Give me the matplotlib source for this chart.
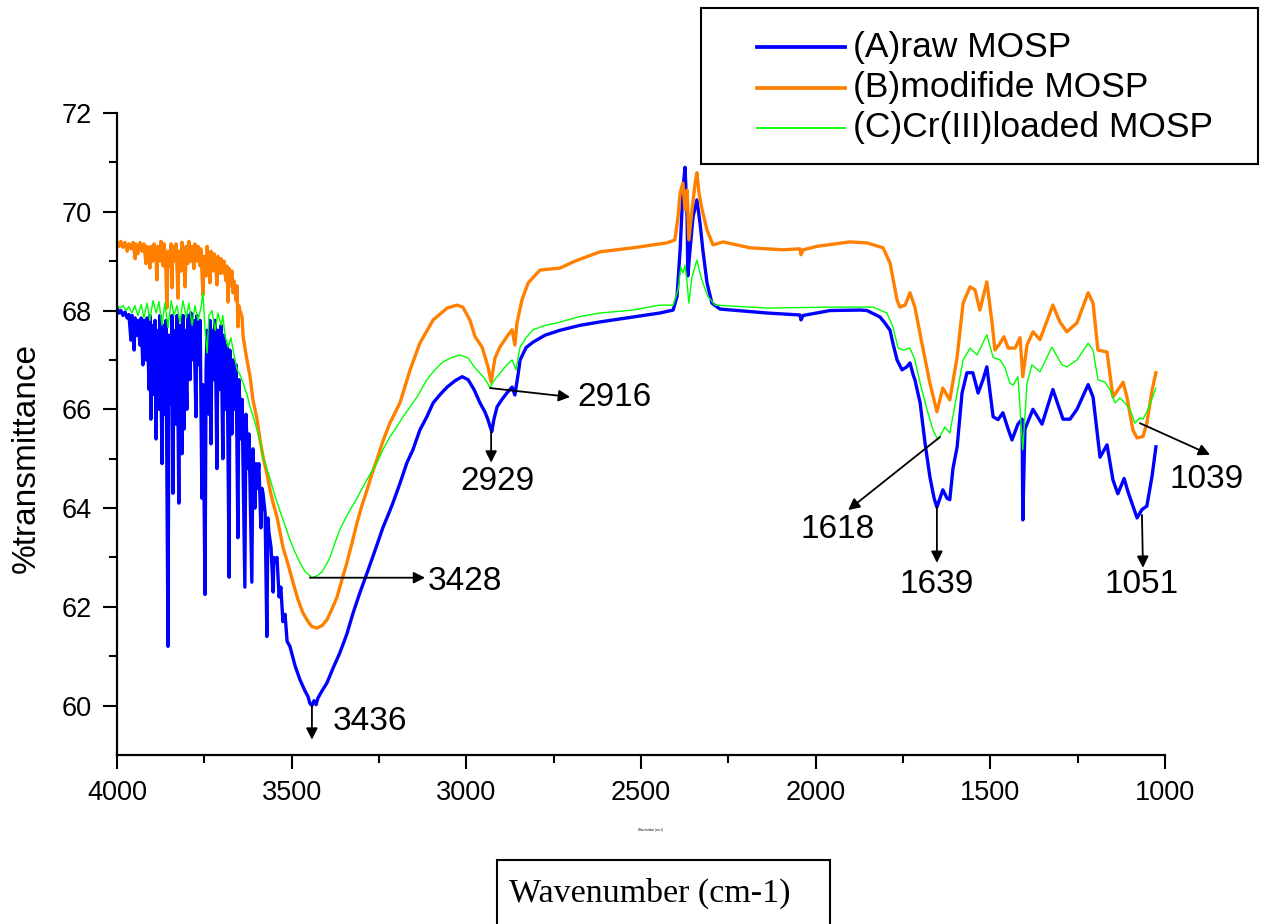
import numpy as np
import matplotlib
matplotlib.use("Agg")
import matplotlib.pyplot as plt
from matplotlib.patches import Rectangle
from matplotlib.lines import Line2D

plt.rcParams['font.family'] = ['Liberation Sans', 'DejaVu Sans']

# (wavenumber cm-1, %transmittance)
raw_mosp = [
    (4000, 68.05), (3994, 67.95), (3989, 68.00), (3983, 67.90), (3977, 67.97), (3971, 67.85), (3966, 67.92), (3960, 67.40),
    (3957, 67.90), (3951, 67.20), (3948, 67.85), (3943, 67.50), (3940, 67.80), (3934, 67.30), (3931, 67.85), (3926, 66.90),
    (3923, 67.80), (3917, 67.00), (3914, 67.85), (3908, 66.40), (3906, 67.90), (3903, 65.80), (3900, 67.70), (3894, 66.30),
    (3891, 67.80), (3888, 65.40), (3886, 67.60), (3880, 66.00), (3877, 67.90), (3871, 64.90), (3868, 67.70), (3863, 65.90),
    (3860, 67.80), (3854, 61.20), (3851, 67.50), (3845, 66.10), (3843, 67.90), (3840, 64.30), (3837, 67.60), (3831, 65.70),
    (3828, 67.90), (3823, 64.10), (3820, 67.70), (3814, 65.10), (3811, 67.90), (3808, 65.60), (3805, 67.60), (3800, 66.00),
    (3797, 67.90), (3791, 66.60), (3788, 67.95), (3782, 67.00), (3780, 67.80), (3774, 65.85), (3771, 67.90), (3765, 66.90),
    (3762, 67.80), (3757, 64.20), (3754, 66.50), (3748, 62.25), (3745, 66.80), (3742, 67.60), (3737, 65.90), (3734, 67.80),
    (3731, 65.30), (3728, 67.60), (3722, 66.60), (3719, 67.80), (3714, 64.80), (3711, 67.60), (3705, 66.40), (3702, 67.70),
    (3697, 65.00), (3694, 67.50), (3688, 66.00), (3685, 67.30), (3679, 62.60), (3677, 67.20), (3671, 65.50), (3668, 67.00),
    (3662, 66.00), (3659, 66.90), (3654, 63.40), (3651, 66.60), (3645, 65.40), (3642, 66.20), (3634, 62.40), (3631, 65.90),
    (3625, 64.80), (3622, 65.50), (3614, 62.50), (3611, 65.20), (3605, 64.00), (3602, 64.90), (3599, 64.40), (3594, 64.90),
    (3588, 63.60), (3585, 64.40), (3582, 64.30), (3576, 63.90), (3571, 61.40), (3568, 63.80), (3565, 63.50), (3559, 63.20),
    (3553, 62.30), (3551, 63.00), (3548, 62.90), (3542, 63.00), (3536, 62.20), (3531, 62.40), (3525, 61.70), (3519, 61.85),
    (3513, 61.30), (3505, 61.20),
    (3490, 60.80), (3476, 60.52), (3462, 60.30), (3453, 60.18), (3448, 60.05), (3442, 60.00), (3436, 60.10), (3430, 60.02),
    (3425, 60.15), (3413, 60.30), (3399, 60.46), (3382, 60.75), (3362, 61.07), (3342, 61.45), (3324, 61.88), (3304, 62.30),
    (3284, 62.69), (3261, 63.15), (3239, 63.60), (3213, 64.05), (3190, 64.50), (3170, 64.92), (3153, 65.18), (3133, 65.58),
    (3113, 65.85), (3095, 66.13), (3075, 66.30), (3055, 66.45), (3032, 66.58), (3012, 66.66), (2995, 66.60), (2978, 66.40),
    (2961, 66.13), (2947, 65.95), (2938, 65.79), (2932, 65.65), (2927, 65.55), (2921, 65.80), (2912, 66.05), (2898, 66.20),
    (2884, 66.33), (2869, 66.45), (2861, 66.29), (2852, 66.70), (2846, 67.00), (2829, 67.25), (2809, 67.36), (2775, 67.50),
    (2732, 67.60), (2675, 67.70), (2617, 67.77), (2523, 67.87), (2446, 67.95), (2408, 68.01), (2397, 68.28), (2388, 69.23),
    (2380, 70.44), (2374, 70.90), (2368, 69.90), (2366, 68.70), (2360, 69.20), (2351, 69.90), (2340, 70.24), (2331, 69.77),
    (2323, 69.23), (2311, 68.56), (2297, 68.15), (2274, 68.03), (2139, 67.95), (2045, 67.91), (2042, 67.81), (2036, 67.90),
    (1959, 68.00), (1873, 68.01), (1853, 68.00), (1816, 67.87), (1802, 67.75), (1787, 67.60), (1779, 67.34), (1767, 67.00),
    (1753, 66.80), (1739, 66.86), (1730, 66.94), (1721, 66.70), (1716, 66.60), (1701, 66.13), (1687, 65.32), (1673, 64.63),
    (1661, 64.20), (1653, 64.02), (1644, 64.20), (1636, 64.37), (1624, 64.20), (1616, 64.17), (1607, 64.80), (1595, 65.24),
    (1581, 66.33), (1567, 66.74), (1550, 66.74), (1535, 66.33), (1521, 66.60), (1510, 66.86), (1492, 65.85), (1478, 65.79),
    (1464, 65.93), (1449, 65.60), (1438, 65.38), (1421, 65.70), (1409, 65.80), (1407, 63.76), (1401, 65.60), (1378, 66.00),
    (1352, 65.70), (1321, 66.40), (1292, 65.80), (1272, 65.80), (1252, 66.00), (1220, 66.50), (1206, 66.25), (1186, 65.03),
    (1166, 65.28), (1149, 64.57), (1135, 64.29), (1117, 64.60), (1106, 64.33), (1080, 63.80), (1066, 63.97), (1052, 64.04),
    (1037, 64.65), (1026, 65.24),
]

modified_mosp = [
    (4000, 69.39), (3994, 69.30), (3989, 69.40), (3983, 69.28), (3977, 69.38), (3971, 69.20), (3966, 69.35), (3960, 69.25),
    (3954, 69.38), (3948, 69.05), (3946, 69.35), (3940, 69.15), (3934, 69.38), (3928, 69.20), (3923, 69.35), (3917, 68.95),
    (3914, 69.30), (3908, 69.10), (3906, 68.86), (3903, 69.30), (3897, 69.00), (3894, 69.35), (3888, 69.10), (3886, 68.62),
    (3883, 69.30), (3877, 69.00), (3874, 69.40), (3868, 68.90), (3865, 69.35), (3860, 68.80), (3857, 68.05), (3854, 69.20),
    (3848, 68.90), (3845, 69.35), (3843, 68.46), (3840, 69.30), (3834, 69.00), (3831, 69.35), (3825, 68.25), (3823, 69.20),
    (3817, 68.80), (3814, 69.38), (3808, 68.90), (3805, 68.48), (3802, 69.30), (3797, 68.95), (3794, 69.40), (3788, 69.00),
    (3785, 69.30), (3780, 68.85), (3777, 69.35), (3771, 69.00), (3768, 69.30), (3762, 68.90), (3760, 69.25), (3754, 68.32),
    (3751, 69.10), (3745, 68.70), (3742, 69.30), (3737, 68.90), (3734, 68.56), (3731, 69.20), (3725, 68.80), (3722, 69.15),
    (3717, 68.90), (3714, 68.52), (3711, 69.10), (3705, 68.75), (3702, 69.05), (3697, 68.76), (3694, 69.00), (3688, 68.60),
    (3685, 68.90), (3682, 68.17), (3679, 68.85), (3674, 68.50), (3671, 68.80), (3668, 68.36), (3665, 68.60), (3659, 68.20),
    (3656, 68.50), (3654, 67.67), (3651, 68.10), (3648, 68.00), (3642, 67.87), (3639, 67.47),
    (3628, 67.00), (3619, 66.66), (3611, 66.20), (3599, 65.79), (3591, 65.40), (3582, 65.04), (3571, 64.70), (3562, 64.37),
    (3553, 64.10), (3542, 63.82), (3533, 63.50), (3525, 63.21), (3510, 62.85), (3496, 62.49), (3482, 62.15), (3468, 61.88),
    (3453, 61.70), (3442, 61.60), (3427, 61.57), (3413, 61.62), (3399, 61.74), (3385, 61.95), (3370, 62.20), (3356, 62.55),
    (3342, 62.89), (3327, 63.30), (3313, 63.70), (3299, 64.05), (3284, 64.37), (3270, 64.70), (3256, 64.98), (3239, 65.35),
    (3219, 65.72), (3190, 66.13), (3161, 66.80), (3133, 67.34), (3095, 67.81), (3055, 68.05), (3027, 68.11), (3010, 68.07),
    (2990, 67.81), (2975, 67.47), (2955, 67.26), (2938, 66.86), (2929, 66.55), (2918, 67.04), (2904, 67.26), (2884, 67.47),
    (2869, 67.61), (2861, 67.30), (2855, 67.75), (2841, 68.21), (2823, 68.56), (2789, 68.82), (2732, 68.86), (2689, 69.00),
    (2617, 69.19), (2523, 69.27), (2426, 69.37), (2403, 69.43), (2394, 69.90), (2388, 70.38), (2380, 70.58), (2374, 70.04),
    (2368, 70.44), (2363, 69.43), (2354, 70.04), (2345, 70.58), (2340, 70.79), (2334, 70.38), (2325, 70.04), (2311, 69.63),
    (2294, 69.33), (2265, 69.39), (2188, 69.27), (2094, 69.23), (2045, 69.25), (2042, 69.13), (2036, 69.23), (1996, 69.30),
    (1902, 69.39), (1853, 69.37), (1807, 69.27), (1787, 68.96), (1767, 68.21), (1759, 68.07), (1744, 68.11), (1730, 68.36),
    (1716, 68.07), (1696, 67.34), (1673, 66.53), (1653, 65.95), (1636, 66.43), (1616, 66.19), (1595, 67.06), (1578, 68.15),
    (1558, 68.48), (1544, 68.42), (1530, 68.01), (1510, 68.58), (1495, 67.75), (1487, 67.20), (1472, 67.34), (1461, 67.47),
    (1449, 67.24), (1429, 67.24), (1415, 67.45), (1407, 66.66), (1395, 67.30), (1378, 67.57), (1358, 67.41), (1321, 68.11),
    (1301, 67.77), (1281, 67.57), (1252, 67.75), (1220, 68.36), (1206, 68.15), (1192, 67.20), (1166, 67.16), (1149, 66.25),
    (1129, 66.45), (1120, 66.55), (1109, 66.25), (1092, 65.58), (1080, 65.42), (1063, 65.45), (1052, 65.72), (1037, 66.39),
    (1026, 66.74),
]

cr_loaded_mosp = [
    (4000, 68.11), (3991, 68.05), (3983, 68.10), (3974, 68.00), (3966, 68.08), (3957, 67.95), (3949, 68.10), (3940, 67.90),
    (3931, 68.12), (3923, 67.85), (3914, 68.15), (3906, 67.80), (3897, 68.20), (3888, 67.95), (3880, 68.18), (3871, 67.70),
    (3863, 68.15), (3854, 67.65), (3845, 68.20), (3837, 67.90), (3828, 68.10), (3820, 67.75), (3811, 68.20), (3802, 67.85),
    (3794, 68.15), (3785, 67.70), (3777, 68.10), (3768, 67.80), (3760, 68.05), (3754, 68.36), (3748, 67.60), (3742, 67.14),
    (3737, 67.90), (3728, 68.00), (3719, 67.60), (3711, 67.95), (3702, 67.70), (3697, 67.90), (3691, 67.50), (3682, 67.26),
    (3674, 67.45), (3665, 67.10), (3656, 66.80), (3648, 66.70), (3639, 66.53), (3628, 66.30), (3619, 66.05), (3608, 65.80),
    (3599, 65.58), (3591, 65.38), (3582, 65.04), (3571, 64.80), (3562, 64.60), (3548, 64.25), (3533, 63.93), (3519, 63.65),
    (3505, 63.36), (3490, 63.10), (3476, 62.89), (3462, 62.72), (3442, 62.59), (3427, 62.63), (3413, 62.71), (3399, 62.88),
    (3390, 63.01), (3376, 63.30), (3362, 63.56), (3347, 63.78), (3333, 63.96), (3313, 64.20), (3296, 64.43), (3276, 64.68),
    (3256, 64.92), (3239, 65.18), (3219, 65.44), (3198, 65.66), (3181, 65.85), (3161, 66.05), (3141, 66.25), (3113, 66.60),
    (3090, 66.80), (3067, 66.96), (3041, 67.05), (3018, 67.10), (2995, 67.04), (2975, 66.84), (2952, 66.66), (2941, 66.55),
    (2932, 66.43), (2924, 66.55), (2912, 66.66), (2884, 66.90), (2869, 67.00), (2858, 66.80), (2846, 67.26), (2829, 67.45),
    (2809, 67.61), (2775, 67.70), (2740, 67.75), (2675, 67.88), (2617, 67.95), (2523, 68.01), (2446, 68.11), (2408, 68.11),
    (2394, 68.42), (2386, 68.88), (2380, 68.76), (2374, 68.92), (2368, 68.56), (2363, 68.15), (2354, 68.68), (2340, 69.02),
    (2331, 68.76), (2323, 68.56), (2308, 68.28), (2288, 68.11), (2139, 68.05), (1950, 68.07), (1836, 68.07), (1796, 67.95),
    (1779, 67.67), (1764, 67.24), (1750, 67.20), (1730, 67.24), (1716, 67.00), (1701, 66.53), (1681, 65.99), (1664, 65.58),
    (1650, 65.38), (1630, 65.64), (1616, 65.52), (1595, 66.33), (1578, 67.00), (1558, 67.24), (1538, 67.10), (1510, 67.51),
    (1492, 67.05), (1472, 67.00), (1458, 66.84), (1444, 66.53), (1435, 66.49), (1421, 66.66), (1407, 65.18), (1395, 66.53),
    (1381, 66.90), (1358, 66.76), (1324, 67.26), (1295, 66.90), (1281, 66.86), (1252, 67.00), (1220, 67.34), (1206, 67.20),
    (1192, 66.60), (1172, 66.55), (1157, 66.39), (1143, 66.13), (1129, 66.23), (1115, 66.13), (1100, 65.99), (1086, 65.72),
    (1072, 65.83), (1063, 65.80), (1049, 65.99), (1026, 66.43),
]

labels = ['(A)raw MOSP', '(B)modifide MOSP', '(C)Cr(III)loaded MOSP']
colors = ['#0000FF', '#FF8000', '#00FF00']
widths = [2.4, 2.4, 1.0]

# peak labels: text, arrow tail (on curve), arrow head, text position, alignment
peaks = [
    ('3436', (3442, 60.00), (3442, 59.31), (3276, 59.67), 'center'),
    ('3428', (3448, 62.59), (3118, 62.59), (3110, 62.51), 'left'),
    ('2929', (2929, 65.55), (2929, 64.92), (2912, 64.53), 'center'),
    ('2916', (2932, 66.43), (2703, 66.25), (2683, 66.23), 'left'),
    ('1618', (1644, 65.44), (1907, 63.96), (1936, 63.56), 'center'),
    ('1639', (1653, 64.02), (1653, 62.89), (1653, 62.45), 'center'),
    ('1051', (1066, 63.86), (1063, 62.79), (1066, 62.45), 'center'),
    ('1039', (1072, 65.72), (871, 65.08), (880, 64.57), 'center'),
]

W, H = 1262, 924
fig = plt.figure(figsize=(W / 100, H / 100), dpi=100)
ax = fig.add_axes([117 / W, 1 - 755 / H, 1048 / W, 642 / H])

for pts, c, lw in zip([raw_mosp, modified_mosp, cr_loaded_mosp], colors, widths):
    arr = np.array(pts)
    ax.plot(arr[:, 0], arr[:, 1], color=c, lw=lw)

ax.set_xlim(4000, 1000)
ax.set_ylim(59, 72)
ax.set_xticks([4000, 3500, 3000, 2500, 2000, 1500, 1000])
ax.set_xticks(np.arange(1250, 4000, 500), minor=True)
ax.set_yticks(np.arange(60, 73, 2))
ax.set_yticks(np.arange(61, 72, 2), minor=True)
for s in ['top', 'right']:
    ax.spines[s].set_visible(False)
for s in ['left', 'bottom']:
    ax.spines[s].set_linewidth(1.6)
ax.tick_params(which='major', direction='out', length=10, width=1.5, labelsize=19.5)
ax.tick_params(which='minor', direction='out', length=5.5, width=1.5)
ax.tick_params(axis='x', pad=8)
ax.tick_params(axis='y', pad=8)

for txt, tail, head, pos, ha in peaks:
    ax.annotate('', xy=head, xytext=tail, annotation_clip=False,
                arrowprops=dict(arrowstyle='-|>', color='black', lw=1.3,
                                mutation_scale=17, shrinkA=0, shrinkB=0))
    ax.text(pos[0], pos[1], txt, fontsize=24, ha=ha, va='center', clip_on=False)

fig.text(26 / W, 1 - 458 / H, '%transmittance', rotation=90, fontsize=24,
         ha='center', va='center')

# x label in its own box
fig.patches.append(Rectangle((497 / W, 1 - 940 / H), 333 / W, 80 / H,
                             transform=fig.transFigure, fill=False, ec='black', lw=1.5))
fig.text(650 / W, 1 - 893 / H, 'Wavenumber (cm-1)', fontsize=24.5,
         family=['Liberation Serif', 'DejaVu Serif'], ha='center', va='center')
fig.text(650 / W, 1 - 830 / H, 'Wavenumber (cm-1)', fontsize=2, ha='center', va='center')

# legend box
fig.patches.append(Rectangle((701 / W, 1 - 164 / H), 557 / W, 156 / H,
                             transform=fig.transFigure, fill=False, ec='black', lw=1.5))
for i, (lab, c, lw) in enumerate(zip(labels, colors, widths)):
    yy = 1 - (47 + 40.5 * i) / H
    fig.add_artist(Line2D([757 / W, 845 / W], [yy, yy], color=c, lw=lw + 0.3,
                          transform=fig.transFigure))
    fig.text(853 / W, yy, lab, fontsize=25.5, ha='left', va='center')

fig.savefig('out.png', dpi=100)
